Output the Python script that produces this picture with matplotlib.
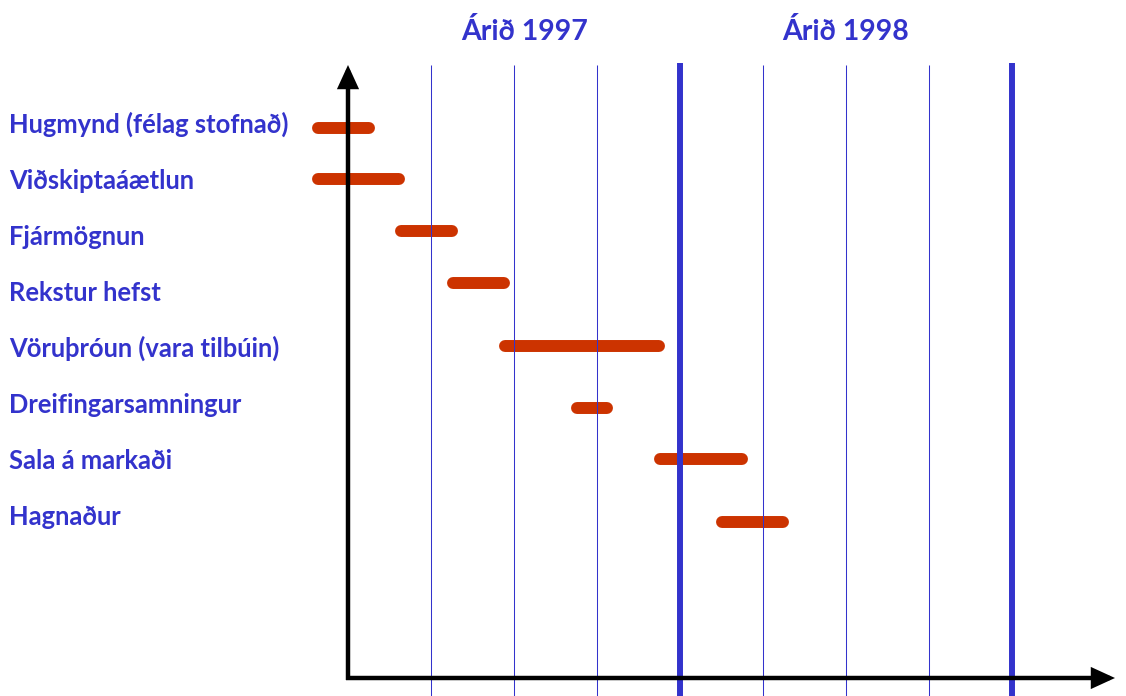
import matplotlib
matplotlib.use("Agg")
import matplotlib.pyplot as plt

# ---- data -------------------------------------------------------------
tasks = [
    "Hugmynd (félag stofnað)",
    "Viðskiptaáætlun",
    "Fjármögnun",
    "Rekstur hefst",
    "Vöruþróun (vara tilbúin)",
    "Dreifingarsamningur",
    "Sala á markaði",
    "Hagnaður",
]
# start / end of each phase, in quarters counted from the start of 1997
task_start = [-0.36, -0.36, 0.64, 1.26, 1.89, 2.76, 3.76, 4.50]
task_end = [0.25, 0.62, 1.25, 1.88, 3.75, 3.12, 4.75, 5.24]
years = ["Árið 1997", "Árið 1998"]
year_label_pos = [2.13, 6.0]       # quarter position of each year heading
quarter_lines = [1, 2, 3, 4, 5, 6, 7, 8]
year_ends = [4, 8]

# ---- layout / style ---------------------------------------------------
BLUE = "#3333CC"
RED = "#CC3300"
W, H = 1126, 696
origin_px = (348, 678)            # where the two axes meet
quarter_px = 83.0                 # width of one quarter
label_baselines = [133 + 56 * i for i in range(len(tasks))]
bar_rows = [128, 179, 231, 283, 346, 408, 459, 522]

plt.rcParams["font.family"] = ["Lato", "DejaVu Sans"]

fig = plt.figure(figsize=(W / 100, H / 100), dpi=100)
ax = fig.add_axes([0, 0, 1, 1])
ax.set_axis_off()
# x in quarters, y in pixel rows from the top
ax.set_xlim(-origin_px[0] / quarter_px, (W - origin_px[0]) / quarter_px)
ax.set_ylim(H, 0)

# quarter grid lines and year boundaries
for q in quarter_lines:
    thick = q in year_ends
    top = 63 if thick else 65
    ax.plot([q, q], [H, top], color=BLUE, lw=4.3 if thick else 0.75,
            solid_capstyle="butt", zorder=3)

# phase bars
for y, s, e in zip(bar_rows, task_start, task_end):
    ax.plot([s, e], [y, y], color=RED, lw=8.6, solid_capstyle="round",
            zorder=2)

# task labels
for y, name in zip(label_baselines, tasks):
    ax.text(9 / W, 1 - y / H, name, transform=ax.transAxes, color=BLUE,
            fontsize=18.4, fontweight="bold", ha="left", va="baseline")

# year headings
for x, name in zip(year_label_pos, years):
    ax.text(x, 40, name, color=BLUE, fontsize=20.5, fontweight="bold",
            ha="center", va="baseline")

# axes with arrowheads
ox, oy = origin_px
arrow = dict(arrowstyle="-|>,head_length=12,head_width=5.5", color="black",
             lw=3.2, shrinkA=0, shrinkB=0, mutation_scale=1,
             joinstyle="miter", capstyle="butt")
ax.annotate("", xy=(1115, H - oy), xytext=(ox - 2, H - oy),
            xycoords="figure pixels", textcoords="figure pixels",
            arrowprops=arrow, zorder=5)
ax.annotate("", xy=(ox, H - 65), xytext=(ox, H - oy - 2),
            xycoords="figure pixels", textcoords="figure pixels",
            arrowprops=arrow, zorder=5)

fig.savefig("out.png", dpi=100, facecolor="white")
